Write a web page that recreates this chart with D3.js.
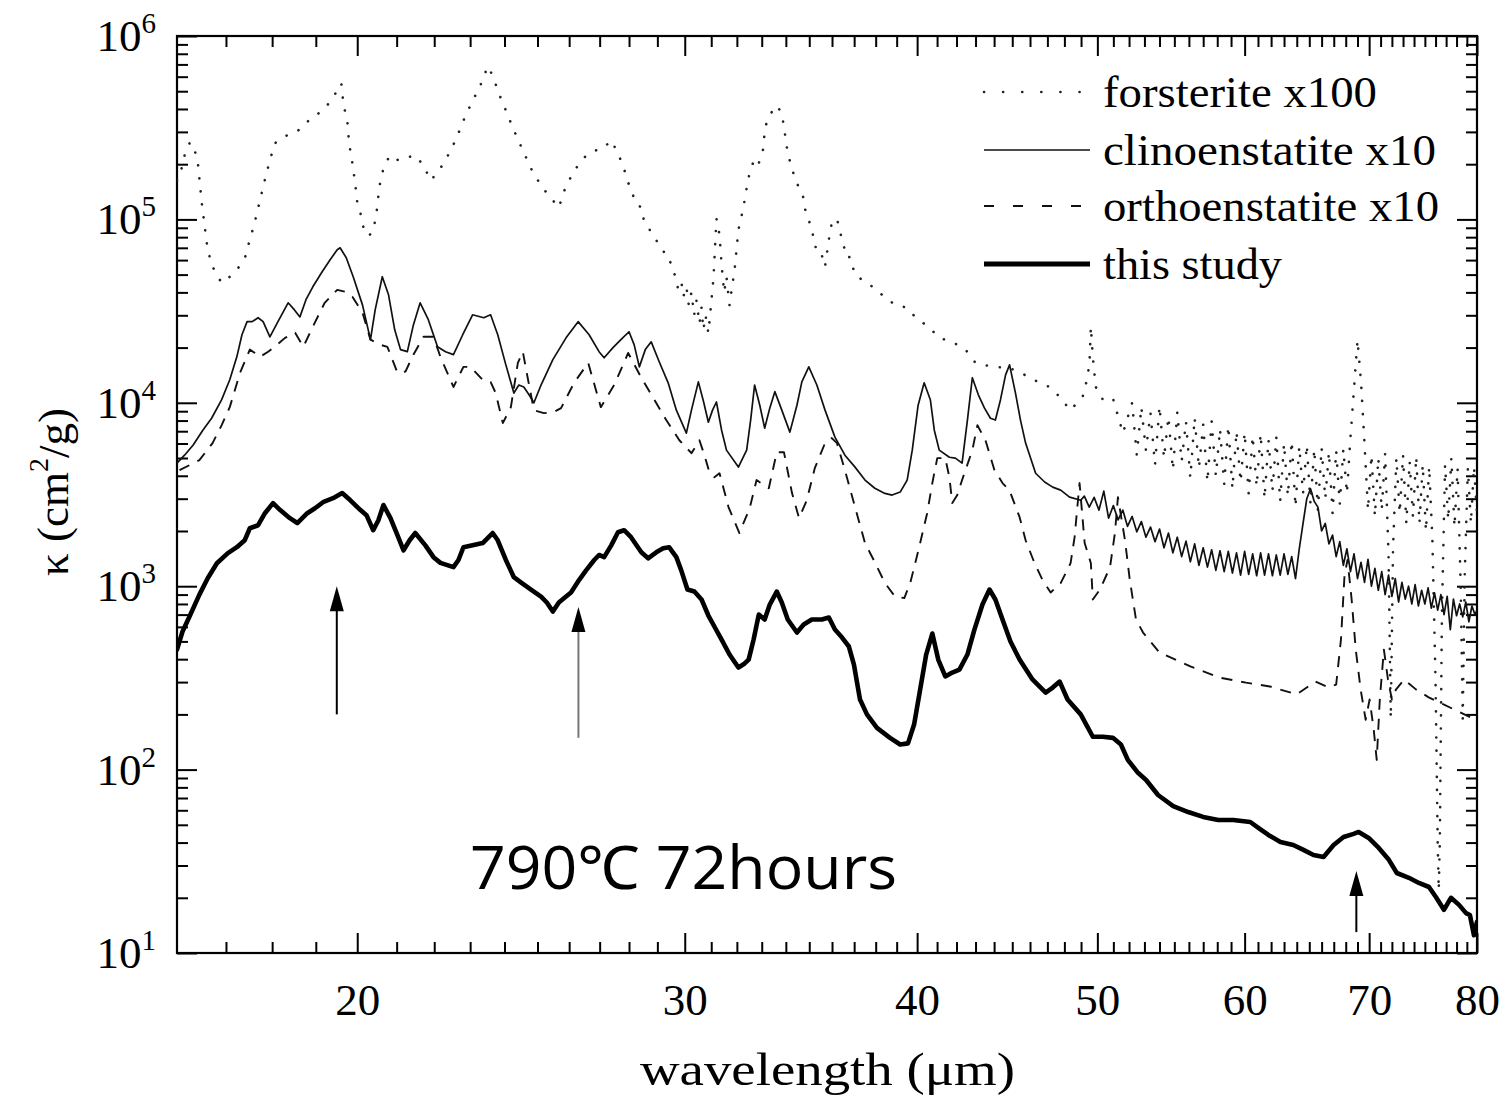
<!DOCTYPE html>
<html><head><meta charset="utf-8">
<script src="https://cdn.jsdelivr.net/npm/d3@7"></script>
<style>body{margin:0;background:#fff}</style>
</head><body>
<svg id="chart" width="1511" height="1096"></svg>
<script>
// ---------------- DATA ----------------
const xMajorTicks = [20,30,40,50,60,70,80];
const yMajorTicks = [10,100,1000,10000,100000,1000000];
const seriesNames = ["forsterite x100","clinoenstatite x10","orthoenstatite x10","this study"];

// [wavelength (um), kappa (cm^2/g)]
const studyPts = [[16.0,451],[16.11,566],[16.25,683],[16.45,900],[16.62,1106],[16.81,1335],[17.04,1514],[17.23,1632],[17.40,1782],[17.51,2070],[17.69,2150],[17.84,2500],[18.02,2840],[18.18,2600],[18.40,2350],[18.57,2210],[18.80,2500],[18.98,2660],[19.17,2870],[19.41,3020],[19.63,3220],[19.83,2940],[20.08,2600],[20.23,2440],[20.40,2020],[20.53,2290],[20.66,2770],[20.84,2350],[21.02,1900],[21.18,1570],[21.34,1780],[21.49,1950],[21.76,1670],[21.98,1440],[22.17,1340],[22.53,1270],[22.67,1390],[22.81,1630],[23.07,1670],[23.36,1720],[23.65,1950],[23.80,1780],[24.04,1390],[24.28,1120],[24.49,1050],[24.80,959],[25.11,878],[25.29,815],[25.48,727],[25.67,815],[25.90,878],[26.06,924],[26.32,1080],[26.55,1220],[26.82,1390],[26.98,1480],[27.15,1440],[27.39,1670],[27.62,1970],[27.83,2020],[28.07,1850],[28.43,1530],[28.67,1420],[28.96,1530],[29.21,1610],[29.43,1630],[29.69,1440],[29.87,1220],[30.10,959],[30.36,935],[30.63,846],[30.89,692],[31.12,603],[31.40,512],[31.71,424],[32.06,360],[32.31,379],[32.47,398],[32.67,512],[32.88,700],[33.12,658],[33.33,794],[33.62,935],[33.83,815],[34.08,658],[34.47,559],[34.76,618],[35.11,658],[35.55,658],[35.86,675],[36.13,580],[36.45,525],[36.76,469],[36.99,374],[37.27,241],[37.59,200],[38.06,169],[38.68,149],[39.17,137],[39.55,139],[39.85,176],[40.15,273],[40.45,424],[40.76,552],[41.06,398],[41.42,322],[41.78,338],[42.15,351],[42.57,424],[42.94,580],[43.37,794],[43.75,959],[44.07,846],[44.46,658],[44.90,499],[45.41,398],[46.14,310],[46.90,263],[47.31,280],[47.72,302],[48.19,241],[48.98,200],[49.72,151],[50.34,151],[50.97,149],[51.48,137],[51.92,113],[52.58,96],[53.11,87.8],[53.9,72.7],[54.92,63.3],[55.95,58.7],[57.0,55.2],[58.07,53.1],[59.17,53.1],[60.42,51.8],[61.03,48.1],[61.79,44.0],[62.72,40.3],[63.73,38.8],[64.53,36.5],[65.34,34.2],[66.16,33.4],[66.99,38.8],[67.82,42.9],[68.67,44.6],[69.10,45.7],[69.96,42.4],[70.84,37.4],[71.73,32.2],[72.44,27.3],[73.53,25.7],[74.45,24.1],[75.38,22.9],[76.03,20.2],[76.79,17.2],[77.46,20.0],[78.24,18.3],[78.92,16.5],[79.3,16.1],[79.7,12.5],[80.0,14.8]];

const clinoPts = [[16.0,4690],[16.15,5180],[16.32,5870],[16.52,7090],[16.70,8240],[16.91,10400],[17.08,13350],[17.23,17800],[17.34,23500],[17.45,27700],[17.56,27700],[17.69,29100],[17.80,27700],[17.95,22900],[18.13,27700],[18.36,35100],[18.50,32200],[18.63,29400],[18.77,36500],[18.93,42900],[19.15,51800],[19.34,60300],[19.51,68300],[19.58,70000],[19.73,61800],[19.90,48700],[20.13,34200],[20.33,22100],[20.45,32200],[20.63,48700],[20.79,38800],[20.95,25000],[21.10,19500],[21.28,19000],[21.44,26600],[21.62,35100],[21.84,28400],[22.09,20200],[22.31,19000],[22.53,18300],[22.79,23500],[23.07,30200],[23.39,29100],[23.59,30200],[23.80,23500],[24.04,16100],[24.28,11300],[24.43,12500],[24.58,12200],[24.74,11060],[24.89,10000],[25.11,12500],[25.48,17200],[25.90,22600],[26.29,27700],[26.65,23500],[26.98,19000],[27.15,17600],[27.45,20000],[27.72,22100],[28.00,24400],[28.18,20700],[28.36,15700],[28.57,19500],[28.78,21500],[29.07,16700],[29.39,12850],[29.69,9120],[30.06,6830],[30.25,9120],[30.51,13000],[30.71,10100],[30.89,7840],[31.05,9120],[31.20,10100],[31.40,7090],[31.59,5520],[32.06,4460],[32.39,5520],[32.55,8050],[32.71,12500],[32.92,9700],[33.12,7270],[33.33,9350],[33.54,11500],[33.83,9120],[34.17,6920],[34.47,9700],[34.68,13000],[34.98,15700],[35.33,12500],[35.69,9120],[36.13,6500],[36.58,5180],[37.04,4460],[37.50,3790],[37.96,3420],[38.39,3220],[38.78,3140],[39.17,3260],[39.51,3790],[39.76,5520],[40.05,9700],[40.35,12850],[40.66,10400],[40.86,7090],[41.11,5520],[41.63,5050],[41.94,4990],[42.29,4690],[42.57,8050],[42.83,13700],[43.15,11060],[43.48,9350],[43.80,8240],[44.07,8050],[44.35,10400],[44.63,14200],[44.85,16100],[45.18,11300],[45.46,8050],[45.75,6030],[46.32,4130],[46.84,3700],[47.31,3470],[47.78,3340],[48.31,3060],[48.98,2940],[49.2,3100],[49.5,2700],[49.8,3050],[50.1,2600],[50.4,3300],[50.7,2350],[51.0,2750],[51.3,2300],[51.6,2600],[51.9,2120],[52.2,2400],[52.5,1980],[52.8,2250],[53.1,1850],[53.4,2100],[53.7,1750],[54.0,2050],[54.3,1620],[54.6,1950],[54.9,1520],[55.2,1850],[55.5,1450],[55.8,1760],[56.1,1360],[56.4,1700],[56.7,1300],[57.0,1620],[57.3,1270],[57.6,1580],[57.9,1220],[58.2,1560],[58.5,1200],[58.8,1550],[59.1,1180],[59.4,1520],[59.7,1150],[60.0,1550],[60.3,1160],[60.6,1500],[60.9,1140],[61.2,1520],[61.5,1150],[61.8,1500],[62.1,1140],[62.4,1480],[62.7,1150],[63.0,1500],[63.3,1160],[63.6,1450],[63.9,1100],[64.2,1600],[64.5,2200],[64.8,3000],[65.1,3400],[65.4,2900],[65.7,2700],[66.0,2000],[66.3,2200],[66.6,1700],[66.9,1900],[67.2,1450],[67.5,1750],[67.8,1300],[68.1,1600],[68.4,1200],[68.7,1500],[69.0,1100],[69.3,1350],[69.6,1050],[69.9,1400],[70.2,1000],[70.5,1250],[70.8,950],[71.1,1200],[71.4,900],[71.7,1150],[72.0,880],[72.3,1100],[72.6,820],[72.9,1050],[73.2,850],[73.5,1000],[73.8,800],[74.1,1020],[74.4,780],[74.7,950],[75.0,800],[75.3,980],[75.6,760],[75.9,920],[76.2,740],[76.5,900],[76.8,700],[77.1,880],[77.4,580],[77.7,850],[78.0,690],[78.3,800],[78.6,680],[78.9,820],[79.2,640],[79.5,780],[79.8,700],[80.0,740]];

const orthoPts = [[16.05,4290],[16.25,4570],[16.45,4870],[16.72,6030],[16.91,7550],[17.08,9470],[17.30,14600],[17.51,19500],[17.62,18700],[17.73,17800],[17.91,19000],[18.11,20700],[18.29,22600],[18.52,24100],[18.71,20200],[18.93,26000],[19.21,35100],[19.51,41300],[19.71,40300],[19.88,37900],[20.13,31000],[20.33,22100],[20.58,20700],[20.76,20200],[20.84,18300],[21.02,14600],[21.23,14800],[21.44,18300],[21.71,22900],[21.98,22900],[22.17,17800],[22.53,12200],[22.81,15700],[23.01,15700],[23.36,13350],[23.59,13000],[23.74,11300],[23.95,7750],[24.19,9470],[24.40,16500],[24.55,19000],[24.71,13350],[24.89,9120],[25.20,8780],[25.51,8900],[25.74,9350],[26.16,12850],[26.62,16500],[27.04,9470],[27.49,12500],[27.97,18700],[28.43,13700],[28.89,10400],[29.32,8050],[29.80,6250],[30.25,5310],[30.55,6250],[30.74,5180],[30.93,4180],[31.12,3930],[31.32,4130],[31.67,2700],[32.10,1950],[32.51,2660],[32.79,3790],[33.29,3420],[33.62,5380],[33.92,5380],[34.26,3220],[34.56,2350],[34.89,2940],[35.24,4400],[35.69,6030],[35.99,6420],[36.22,6030],[36.58,4290],[37.04,2700],[37.50,1720],[37.96,1350],[38.44,1040],[38.92,878],[39.37,862],[39.66,1040],[40.10,1630],[40.50,2500],[40.76,3650],[41.01,4990],[41.42,4990],[41.63,3930],[41.78,2840],[42.04,3140],[42.29,3790],[42.83,5520],[43.10,7550],[43.53,6250],[44.02,4290],[44.46,3650],[44.84,3340],[45.41,2380],[45.75,1780],[46.26,1335],[46.72,1080],[47.19,924],[47.78,1040],[48.37,1335],[48.61,1850],[48.91,3650],[49.22,1720],[49.60,1335],[49.72,846],[50.16,959],[50.79,1270],[51.10,1950],[51.29,3060],[51.74,1780],[52.05,1080],[52.45,658],[52.91,559],[54.0,435],[56.1,365],[58.2,317],[60.1,298],[61.9,284],[64.0,257],[65.5,302],[66.6,280],[67.2,291],[67.6,512],[67.9,1150],[68.15,1390],[68.5,846],[68.85,451],[69.27,273],[69.7,187],[70.04,241],[70.4,165],[70.66,113],[70.93,241],[71.29,451],[71.65,310],[72.0,241],[72.36,273],[73.1,310],[74.2,273],[75.4,247],[76.8,226],[78.2,207],[79.4,192],[80.0,187]];

const forstPts = [[16.0,163000],[16.06,174000],[16.15,223000],[16.25,260000],[16.32,260000],[16.42,202000],[16.50,122000],[16.60,74600],[16.68,58700],[16.79,50500],[16.91,45100],[17.11,49300],[17.28,55200],[17.41,62500],[17.51,77500],[17.62,97000],[17.69,115000],[17.82,157000],[17.93,202000],[18.06,260000],[18.33,287000],[18.57,302000],[18.78,338000],[19.01,369000],[19.25,413000],[19.41,462000],[19.61,552000],[19.66,429000],[19.76,334000],[19.80,260000],[19.88,202000],[19.95,157000],[20.00,124000],[20.08,108000],[20.18,84600],[20.28,81500],[20.38,84600],[20.43,93500],[20.50,116000],[20.55,149000],[20.66,190000],[20.82,223000],[21.05,210000],[21.28,218000],[21.49,223000],[21.71,197000],[21.90,163000],[22.09,180000],[22.31,210000],[22.59,270000],[22.87,369000],[23.15,474000],[23.36,573000],[23.50,683000],[23.65,610000],[23.82,493000],[24.04,393000],[24.28,306000],[24.55,238000],[24.86,180000],[25.17,148000],[25.48,127000],[25.67,116000],[25.90,153000],[26.22,190000],[26.55,223000],[26.88,238000],[27.11,243000],[27.39,270000],[27.62,229000],[27.79,197000],[27.97,159000],[28.11,139000],[28.25,122000],[28.43,116000],[28.53,97000],[28.67,91200],[28.85,80500],[29.03,74600],[29.21,68300],[29.32,60300],[29.50,58000],[29.61,51200],[29.75,42000],[29.87,46000],[29.95,38000],[30.06,43000],[30.15,34000],[30.25,40000],[30.35,30000],[30.44,36000],[30.55,27000],[30.63,33000],[30.70,25000],[30.78,30000],[30.89,24000],[31.01,36500],[31.09,48700],[31.20,101000],[31.32,82400],[31.40,56600],[31.50,40000],[31.59,48700],[31.71,34000],[31.80,42000],[31.91,53100],[32.06,87800],[32.26,116000],[32.39,148000],[32.51,180000],[32.71,215000],[32.88,202000],[33.08,247000],[33.12,314000],[33.29,360000],[33.45,393000],[33.62,418000],[33.83,379000],[33.96,294000],[34.08,229000],[34.26,190000],[34.43,159000],[34.60,148000],[34.76,130000],[34.85,108000],[35.11,90000],[35.24,70900],[35.46,70000],[35.69,55200],[35.86,77500],[35.99,95900],[36.22,101000],[36.45,77500],[36.67,61800],[36.81,62500],[37.04,49900],[37.36,46900],[37.73,44000],[38.30,38800],[38.92,34200],[39.51,33000],[39.90,29400],[40.61,25700],[41.11,22600],[41.78,21500],[42.47,19500],[43.0,16500],[43.92,15700],[44.84,15500],[45.58,14400],[46.32,13200],[47.12,12200],[47.90,10400],[48.31,9100],[48.79,10000],[49.1,10800],[49.41,13900],[49.53,17800],[49.6,26000],[49.72,17800],[49.9,12200],[50.34,10400],[50.97,10600],[51.61,6830],[51.92,8350],[52.2,10000],[52.5,5200],[52.8,9500],[53.1,5500],[53.4,8800],[53.7,4600],[54.0,9600],[54.3,5000],[54.6,8400],[54.9,4300],[55.2,8900],[55.5,4800],[55.8,7900],[56.1,3900],[56.4,8300],[56.7,4400],[57.0,7600],[57.3,3700],[57.6,7900],[57.9,4000],[58.2,7200],[58.5,3600],[58.8,7500],[59.1,3400],[59.4,7000],[59.7,3700],[60.0,6900],[60.3,3200],[60.6,6600],[60.9,3500],[61.2,6800],[61.5,3000],[61.8,6300],[62.1,3300],[62.4,6500],[62.7,2900],[63.0,6000],[63.3,3100],[63.6,6200],[63.9,2700],[64.2,5800],[64.5,3200],[64.8,5900],[65.1,2800],[65.4,5600],[65.7,2600],[66.0,5700],[66.3,3000],[66.6,5400],[66.9,2500],[67.2,5500],[67.5,2800],[67.8,5600],[68.1,3200],[68.4,6500],[68.7,12000],[69.0,22000],[69.3,13000],[69.6,6000],[69.9,2600],[70.2,5200],[70.5,2400],[70.8,5000],[71.1,2600],[71.4,5300],[71.7,1500],[71.9,190],[72.1,1600],[72.4,5000],[72.7,2500],[73.0,5200],[73.3,2200],[73.6,4800],[73.9,2400],[74.2,5100],[74.5,2200],[74.8,4600],[75.1,2000],[75.4,4500],[75.7,1800],[76.0,300],[76.2,40],[76.3,22],[76.4,40],[76.6,700],[76.9,4600],[77.2,2300],[77.5,5000],[77.8,2100],[78.1,4400],[78.4,1000],[78.6,190],[78.8,1200],[79.1,4400],[79.4,2200],[79.7,4500],[80.0,2500]];

// arrows: wavelength, tip kappa, tail kappa
const arrowWl = [19.5, 26.3, 68.9];
const arrowTip = [1000, 770, 28];
const arrowTail = [200, 149, 13];
const annotationText = "790\u2103  72hours";

// ---------------- DRAW ----------------
const W = 1511, H = 1096;
const M = {left:177, right:1477, top:36, bottom:953};
const serif = "'Liberation Serif','Times New Roman',Times,serif";
const svg = d3.select('#chart');
svg.append('rect').attr('width', W).attr('height', H).attr('fill', '#fff');

const x = d3.scaleLog().domain([16, 80]).range([M.left, M.right]);
const y = d3.scaleLog().domain([10, 1e6]).range([M.bottom, M.top]);

svg.append('defs').append('clipPath').attr('id', 'plotclip')
  .append('rect').attr('x', M.left).attr('y', M.top)
  .attr('width', M.right - M.left).attr('height', M.bottom - M.top);

const xMinorTicks = d3.range(17, 80).filter(v => v % 10 !== 0);
const yMinorTicks = [];
[10,100,1000,10000,100000].forEach(b => { for (let k = 2; k <= 9; k++) yMinorTicks.push(b * k); });

function styleAxis(sel) {
  sel.select('.domain').remove();
  sel.selectAll('.tick line').attr('stroke', '#000').attr('stroke-width', 2);
  sel.selectAll('.tick text').attr('font-family', serif).attr('font-size', 45).attr('fill', '#000');
}
const axes = svg.append('g');
// bottom
axes.append('g').attr('transform', `translate(0,${M.bottom})`)
  .call(d3.axisBottom(x).tickValues(xMajorTicks).tickFormat(d3.format('d')).tickSize(-20).tickSizeOuter(0).tickPadding(30))
  .call(styleAxis);
axes.append('g').attr('transform', `translate(0,${M.bottom})`)
  .call(d3.axisBottom(x).tickValues(xMinorTicks).tickFormat('').tickSize(-11).tickSizeOuter(0))
  .call(styleAxis);
// top
axes.append('g').attr('transform', `translate(0,${M.top})`)
  .call(d3.axisTop(x).tickValues(xMajorTicks).tickFormat('').tickSize(-20).tickSizeOuter(0))
  .call(styleAxis);
axes.append('g').attr('transform', `translate(0,${M.top})`)
  .call(d3.axisTop(x).tickValues(xMinorTicks).tickFormat('').tickSize(-11).tickSizeOuter(0))
  .call(styleAxis);
// left
const yl = axes.append('g').attr('transform', `translate(${M.left},0)`)
  .call(d3.axisLeft(y).tickValues(yMajorTicks).tickFormat(d => String(d)).tickSize(-20).tickSizeOuter(0).tickPadding(21))
  .call(styleAxis);
yl.selectAll('.tick text').each(function(d) {
  const t = d3.select(this);
  t.text(null);
  t.append('tspan').text('10');
  t.append('tspan').attr('font-size', 29).attr('dy', '-0.62em').text(Math.round(Math.log10(d)));
});
axes.append('g').attr('transform', `translate(${M.left},0)`)
  .call(d3.axisLeft(y).tickValues(yMinorTicks).tickFormat('').tickSize(-11).tickSizeOuter(0))
  .call(styleAxis);
// right
axes.append('g').attr('transform', `translate(${M.right},0)`)
  .call(d3.axisRight(y).tickValues(yMajorTicks).tickFormat('').tickSize(-20).tickSizeOuter(0))
  .call(styleAxis);
axes.append('g').attr('transform', `translate(${M.right},0)`)
  .call(d3.axisRight(y).tickValues(yMinorTicks).tickFormat('').tickSize(-11).tickSizeOuter(0))
  .call(styleAxis);

// frame
svg.append('rect').attr('x', M.left).attr('y', M.top)
  .attr('width', M.right - M.left).attr('height', M.bottom - M.top)
  .attr('fill', 'none').attr('stroke', '#000').attr('stroke-width', 2.2);

// series
const line = d3.line().x(d => x(d[0])).y(d => y(d[1]));
const plot = svg.append('g').attr('clip-path', 'url(#plotclip)');
const styles = [
  {pts: forstPts, w: 2.6, dash: '0.1 13', cap: 'round', color: '#222'},
  {pts: clinoPts, w: 1.7, dash: null, cap: 'butt', color: '#111'},
  {pts: orthoPts, w: 1.9, dash: '11 9', cap: 'butt', color: '#111'},
  {pts: studyPts, w: 4.6, dash: null, cap: 'round', color: '#000'}
];
styles.forEach(s => {
  plot.append('path').datum(s.pts).attr('d', line)
    .attr('fill', 'none').attr('stroke', s.color).attr('stroke-width', s.w)
    .attr('stroke-linejoin', 'round').attr('stroke-linecap', s.cap)
    .attr('stroke-dasharray', s.dash);
});

// arrows
arrowWl.forEach((wl, i) => {
  const ax = x(wl), yt = y(arrowTip[i]), yb = y(arrowTail[i]);
  svg.append('line').attr('x1', ax).attr('x2', ax).attr('y1', yb).attr('y2', yt + 20)
    .attr('stroke', i === 1 ? '#777' : '#000').attr('stroke-width', 2);
  svg.append('path').attr('d', `M${ax},${yt} L${ax - 7},${yt + 25} L${ax + 7},${yt + 25} Z`).attr('fill', '#000');
});

// legend
const legY = [92, 150, 206, 264];
const legW = [274, 333, 336, 179];
styles.forEach((s, i) => {
  svg.append('line').attr('x1', 984).attr('x2', 1090).attr('y1', legY[i]).attr('y2', legY[i])
    .attr('stroke', s.color).attr('stroke-width', i === 3 ? 5 : s.w)
    .attr('stroke-linecap', i === 0 ? 'round' : 'butt')
    .attr('stroke-dasharray', i === 0 ? '0.1 19' : (i === 2 ? '10 19' : null));
  svg.append('text').attr('x', 1103).attr('y', legY[i] + 15)
    .attr('font-family', serif).attr('font-size', 44)
    .attr('textLength', legW[i]).attr('lengthAdjust', 'spacingAndGlyphs')
    .text(seriesNames[i]);
});

// axis titles
svg.append('text').attr('x', 640).attr('y', 1085)
  .attr('font-family', serif).attr('font-size', 47)
  .attr('textLength', 375).attr('lengthAdjust', 'spacingAndGlyphs')
  .text('wavelength (\u03bcm)');
const yt = svg.append('text').attr('transform', 'translate(68,492) rotate(-90)')
  .attr('text-anchor', 'middle').attr('font-family', serif).attr('font-size', 45);
yt.append('tspan').text('\u03ba (cm');
yt.append('tspan').attr('font-size', 28).attr('dy', '-0.7em').text('2');
yt.append('tspan').attr('dy', '0.45em').text('/g)');

// annotation
svg.append('text').attr('x', 470).attr('y', 889)
  .attr('font-family', "'Open Sans','Noto Sans',sans-serif").attr('font-size', 60)
  .attr('textLength', 427).attr('lengthAdjust', 'spacingAndGlyphs')
  .text(annotationText);
</script>
</body></html>
